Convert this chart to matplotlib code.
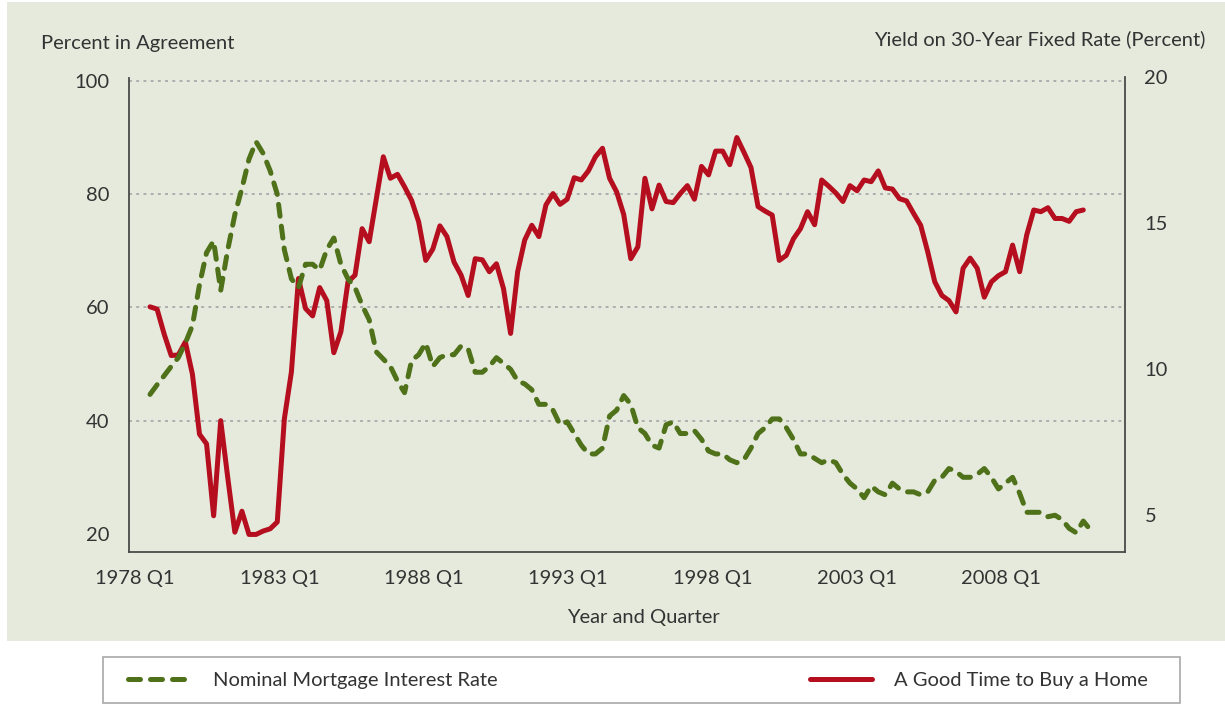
import numpy as np
import matplotlib
matplotlib.use('Agg')
import matplotlib.pyplot as plt
from matplotlib.patches import Rectangle

plt.rcParams['font.family'] = ['Lato', 'DejaVu Sans']

# quarterly series, first point = 1978 Q1
# share saying it is a good time to buy a home (left axis, percent)
good_time = [60.1, 59.7, 55.3, 51.5, 51.6, 53.9, 48.2, 37.6, 35.9, 23.2,
             40.0, 29.9, 20.3, 24.0, 19.9, 19.9, 20.5, 20.9, 22.1, 40.3,
             48.6, 65.1, 59.8, 58.5, 63.5, 61.2, 52.0, 55.7, 64.5, 65.7,
             73.9, 71.6, 79.1, 86.6, 82.8, 83.5, 81.3, 78.9, 75.1, 68.3,
             70.3, 74.4, 72.5, 68.0, 65.7, 62.1, 68.6, 68.4, 66.3, 67.7,
             63.3, 55.4, 66.3, 71.9, 74.5, 72.5, 78.1, 80.1, 78.2, 79.1,
             82.9, 82.5, 84.1, 86.6, 88.1, 82.8, 80.4, 76.4, 68.6, 70.7,
             82.8, 77.4, 81.6, 78.7, 78.5, 80.1, 81.5, 79.1, 84.9, 83.4,
             87.6, 87.6, 85.2, 90.0, 87.4, 84.7, 77.8, 77.0, 76.3, 68.3,
             69.2, 72.1, 73.9, 76.9, 74.6, 82.5, 81.4, 80.2, 78.7, 81.5,
             80.6, 82.5, 82.2, 84.1, 81.1, 80.9, 79.2, 78.8, 76.6, 74.5,
             69.8, 64.5, 62.1, 61.2, 59.2, 66.9, 68.7, 66.9, 61.8, 64.5,
             65.6, 66.3, 71.0, 66.3, 72.8, 77.2, 76.9, 77.6, 75.7, 75.7,
             75.2, 76.9, 77.2]

# nominal 30-year fixed mortgage rate (right axis, percent)
mortgage_rate = [9.14, 9.47, 9.78, 10.1, 10.4, 10.9, 11.5, 12.9, 14.0, 14.4,
                 12.7, 14.1, 15.3, 16.2, 17.2, 17.8, 17.4, 16.8, 16.0, 14.1,
                 13.1, 12.8, 13.6, 13.6, 13.4, 14.1, 14.5, 13.6, 13.1, 12.8,
                 12.2, 11.7, 10.6, 10.35, 10.1, 9.6, 9.2, 10.3, 10.5, 10.9,
                 10.1, 10.4, 10.5, 10.5, 10.8, 10.7, 9.9, 9.9, 10.1, 10.4,
                 10.2, 10.0, 9.6, 9.5, 9.3, 8.8, 8.8, 8.6, 8.1, 8.2,
                 7.8, 7.4, 7.1, 7.1, 7.3, 8.4, 8.6, 9.1, 8.8, 8.0,
                 7.8, 7.4, 7.3, 8.1, 8.2, 7.8, 7.8, 7.9, 7.6, 7.2,
                 7.1, 7.1, 6.9, 6.8, 6.9, 7.3, 7.8, 8.0, 8.3, 8.3,
                 8.0, 7.6, 7.1, 7.1, 6.95, 6.8, 6.9, 6.8, 6.4, 6.1,
                 5.9, 5.6, 6.0, 5.8, 5.7, 6.1, 5.9, 5.8, 5.8, 5.7,
                 5.8, 6.2, 6.3, 6.6, 6.5, 6.3, 6.3, 6.4, 6.6, 6.3,
                 5.9, 6.1, 6.3, 5.75, 5.1, 5.1, 5.1, 4.95, 5.0, 4.85,
                 4.55, 4.4, 4.8, 4.5]

tick_labels = ['1978 Q1', '1983 Q1', '1988 Q1', '1993 Q1', '1998 Q1', '2003 Q1', '2008 Q1']
left_ticks = [20, 40, 60, 80, 100]
right_ticks = [5, 10, 15, 20]
grid_levels = [40, 60, 80, 100]

red = '#B50E1F'
green = '#4E7119'
panel = '#E6EADD'
txt = '#333333'
fs = 14.5

fig = plt.figure(figsize=(12.25, 7.04), dpi=100)
fig.patch.set_facecolor('white')
fig.patches.append(Rectangle((7 / 1225, 1 - 641 / 704), 1 - 7 / 1225, 639 / 704,
                             transform=fig.transFigure, facecolor=panel,
                             edgecolor='none', zorder=-2))

ax = fig.add_axes([129 / 1225, 1 - 552 / 704, 996 / 1225, 474.5 / 704])
ax.set_facecolor('none')

x_red = np.arange(len(good_time))
x_green = np.arange(len(mortgage_rate))

for g in grid_levels:
    ax.axhline(g, color='#A9A9A9', lw=1.3, linestyle=(0, (1.6, 2.4)), zorder=1)

line_red, = ax.plot(x_red, good_time, color=red, lw=3.6,
                    solid_capstyle='round', solid_joinstyle='round', zorder=3)
ax.set_xlim(-2.97, 137.9)
ax.set_ylim(16.8, 100.6)
ax.set_yticks(left_ticks)
ax.set_xticks(np.linspace(-2.1, 120.4, len(tick_labels)))
ax.set_xticklabels(tick_labels)

ax2 = ax.twinx()
line_green, = ax2.plot(x_green, mortgage_rate, color=green, lw=3.6,
                       dashes=(2.4, 2.0), dash_capstyle='round',
                       dash_joinstyle='round', zorder=3)
ax2.set_ylim(3.74, 20.0)
ax2.set_yticks(right_ticks)

for a in (ax, ax2):
    a.spines['top'].set_visible(False)
    for s in a.spines.values():
        s.set_color('#4A4A4A')
        s.set_linewidth(1.3)
ax.spines['right'].set_visible(False)
ax2.spines['left'].set_visible(False)
ax2.spines['bottom'].set_visible(False)

ax.tick_params(axis='y', length=0, pad=14, labelsize=fs, labelcolor=txt)
ax.tick_params(axis='x', length=0, pad=13, labelsize=fs, labelcolor=txt)
ax2.tick_params(axis='y', length=0, pad=14, labelsize=fs, labelcolor=txt)

fig.text(41 / 1225, 1 - 44 / 704, 'Percent in Agreement', ha='left', va='center',
         fontsize=fs, color=txt)
fig.text(1205 / 1225, 1 - 39 / 704, 'Yield on 30-Year Fixed Rate (Percent)',
         ha='right', va='center', fontsize=fs, color=txt)
fig.text(643 / 1225, 1 - 617 / 704, 'Year and Quarter', ha='center', va='center',
         fontsize=fs, color=txt)

# legend box below the panel
fig.patches.append(Rectangle((103 / 1225, 1 / 704), 1077 / 1225, 46 / 704,
                             transform=fig.transFigure, facecolor='white',
                             edgecolor='#A8A8A8', lw=1.2, zorder=-1))
leg = fig.legend([line_green, line_red],
                 ['Nominal Mortgage Interest Rate', 'A Good Time to Buy a Home'],
                 loc='center', bbox_to_anchor=(128 / 1225, 1 / 704, 1020 / 1225, 46 / 704),
                 mode='expand', ncol=2, frameon=False, borderpad=0, borderaxespad=0,
                 handlelength=3.1, handletextpad=1.1, fontsize=fs, labelcolor=txt)

fig.savefig('out.png', dpi=100, facecolor='white')
